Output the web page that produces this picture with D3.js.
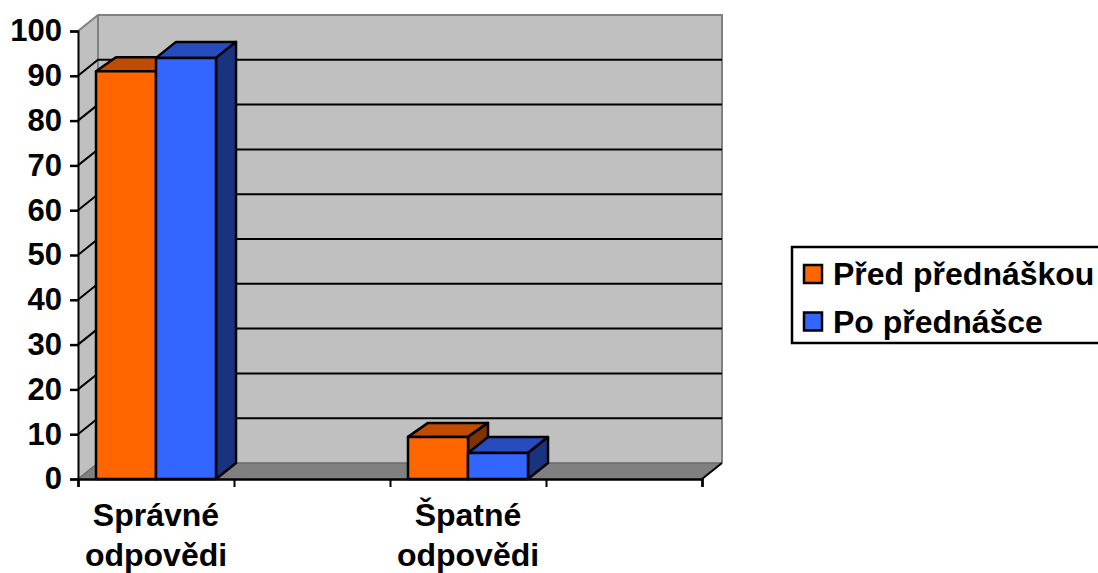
<!DOCTYPE html>
<html>
<head>
<meta charset="utf-8">
<script src="https://cdn.jsdelivr.net/npm/d3@7"></script>
<style>
    html, body { margin: 0; background: #fff; overflow: hidden; }
    text { font-family: "Liberation Sans", Arial, sans-serif; font-weight: bold; fill: #000; }
</style>
</head>
<body>
<div id="chart"></div>
<script>
const categories = ["Správné odpovědi", "", "Špatné odpovědi", ""];
const seriesNames = ["Před přednáškou", "Po přednášce"];
const beforeValues = [91, null, 9.4, null];
const afterValues = [94, null, 5.8, null];
const yTicks = [0, 10, 20, 30, 40, 50, 60, 70, 80, 90, 100];

function makeChart() {
    const width = 1098,
        height = 573,
        left = 78,
        right = 702,
        top = 31,
        bottom = 479,
        depthX = 20,
        depthY = 16,
        tickFont = 31,
        fontSize = 32;

    const styles = [
        { front: '#ff6600', top: '#bf4c00', side: '#803300', rise: 14 },
        { front: '#3366ff', top: '#264cbf', side: '#19337f', rise: 16 }
    ];

    const svg = d3.select('#chart').append('svg')
        .attr('width', width)
        .attr('height', height)
        .style('display', 'block');

    const y = d3.scaleLinear().domain([0, 100]).range([bottom, top]);
    const x = d3.scaleBand().domain(d3.range(categories.length)).range([left, right]);
    // bars fill the middle of each band
    const inner = d3.scaleBand().domain(d3.range(seriesNames.length))
        .range([18, x.bandwidth() - 18]);

    const line = d3.line();

    // walls and floor
    svg.append('path')
        .attr('d', line([[left, top], [left + depthX, top - depthY], [left + depthX, bottom - depthY], [left, bottom]]) + 'Z')
        .attr('fill', '#c0c0c0');
    svg.append('rect')
        .attr('x', left + depthX)
        .attr('y', top - depthY)
        .attr('width', right - left)
        .attr('height', bottom - top)
        .attr('fill', '#c0c0c0');
    svg.append('path')
        .attr('d', line([[left, bottom], [left + depthX, bottom - depthY], [right + depthX, bottom - depthY], [right, bottom]]) + 'Z')
        .attr('fill', '#808080');

    // grey wall edges
    svg.append('path')
        .attr('d', line([[left, top], [left + depthX, top - depthY], [right + depthX, top - depthY], [right + depthX, bottom - depthY]]))
        .attr('fill', 'none')
        .attr('stroke', '#808080')
        .attr('stroke-width', 2);
    svg.append('path')
        .attr('d', line([[left + depthX, top - depthY], [left + depthX, bottom - depthY]]))
        .attr('stroke', '#808080')
        .attr('stroke-width', 2);
    svg.append('path')
        .attr('d', line([[left, bottom], [left + depthX, bottom - depthY], [right + depthX, bottom - depthY]]))
        .attr('fill', 'none')
        .attr('stroke', '#6a6a6a')
        .attr('stroke-width', 1.5);

    // grid lines go across the side wall and the back wall
    svg.append('g').selectAll('path')
        .data(yTicks.filter(d => d > 0 && d < 100))
        .enter().append('path')
        .attr('d', d => line([[left, y(d)], [left + depthX, y(d) - depthY], [right + depthX, y(d) - depthY]]))
        .attr('fill', 'none')
        .attr('stroke', '#000')
        .attr('stroke-width', 2);

    svg.append('path')
        .attr('d', line([[right, bottom], [right + depthX, bottom - depthY]]))
        .attr('stroke', '#000')
        .attr('stroke-width', 2);

    // bars
    [beforeValues, afterValues].forEach((values, s) => {
        const st = styles[s];
        const bars = svg.append('g').selectAll('g')
            .data(values.map((v, i) => ({ v: v, i: i })).filter(d => d.v !== null))
            .enter().append('g')
            .attr('stroke', '#000')
            .attr('stroke-width', 2.5)
            .attr('stroke-linejoin', 'round');

        const x0 = d => x(d.i) + inner(s);
        const x1 = d => x0(d) + inner.bandwidth();

        bars.append('path')
            .attr('fill', st.top)
            .attr('d', d => line([[x0(d), y(d.v)], [x0(d) + depthX, y(d.v) - st.rise], [x1(d) + depthX, y(d.v) - st.rise], [x1(d), y(d.v)]]) + 'Z');
        bars.append('path')
            .attr('fill', st.side)
            .attr('d', d => line([[x1(d), y(d.v)], [x1(d) + depthX, y(d.v) - st.rise], [x1(d) + depthX, bottom - depthY], [x1(d), bottom]]) + 'Z');
        bars.append('rect')
            .attr('fill', st.front)
            .attr('x', x0)
            .attr('y', d => y(d.v))
            .attr('width', inner.bandwidth())
            .attr('height', d => bottom - y(d.v));
    });

    // axes
    const yAxis = svg.append('g')
        .attr('transform', 'translate(' + left + ',0)')
        .call(d3.axisLeft(y).tickValues(yTicks).tickSize(8).tickPadding(8));
    yAxis.selectAll('.domain').attr('stroke-width', 2);
    yAxis.selectAll('line').attr('stroke-width', 2.5);
    yAxis.selectAll('text').attr('font-size', tickFont).attr('font-family', null);

    const edges = d3.scaleLinear().domain([0, categories.length]).range([left, right]);
    const xAxis = svg.append('g')
        .attr('transform', 'translate(0,' + bottom + ')')
        .call(d3.axisBottom(edges).tickValues(d3.range(categories.length + 1)).tickSize(8).tickFormat(''));
    xAxis.selectAll('.domain').attr('stroke-width', 2.5);
    xAxis.selectAll('line').attr('stroke-width', 2);

    // category labels, two lines each
    const labels = svg.append('g').selectAll('text')
        .data(categories.map((c, i) => ({ c: c, i: i })).filter(d => d.c))
        .enter().append('text')
        .attr('text-anchor', 'middle')
        .attr('font-size', fontSize);
    labels.selectAll('tspan')
        .data(d => d.c.split(' ').map(w => ({ w: w, i: d.i })))
        .enter().append('tspan')
        .attr('x', d => x(d.i) + x.bandwidth() / 2)
        .attr('y', (d, j) => 526 + j * 40)
        .text(d => d.w);

    // legend, its box runs off the right side
    svg.append('rect')
        .attr('x', 792)
        .attr('y', 247)
        .attr('width', 320)
        .attr('height', 96)
        .attr('fill', '#fff')
        .attr('stroke', '#000')
        .attr('stroke-width', 2.5);

    const legend = svg.append('g').selectAll('g')
        .data(seriesNames)
        .enter().append('g')
        .attr('transform', (d, i) => 'translate(0,' + (i * 47.5) + ')');
    legend.append('rect')
        .attr('x', 804)
        .attr('y', 265)
        .attr('width', 18)
        .attr('height', 18)
        .attr('fill', (d, i) => styles[i].front)
        .attr('stroke', '#000')
        .attr('stroke-width', 2.5);
    legend.append('text')
        .attr('x', 833)
        .attr('y', 285)
        .attr('font-size', fontSize)
        .text(d => d);
}

makeChart();
</script>
</body>
</html>
